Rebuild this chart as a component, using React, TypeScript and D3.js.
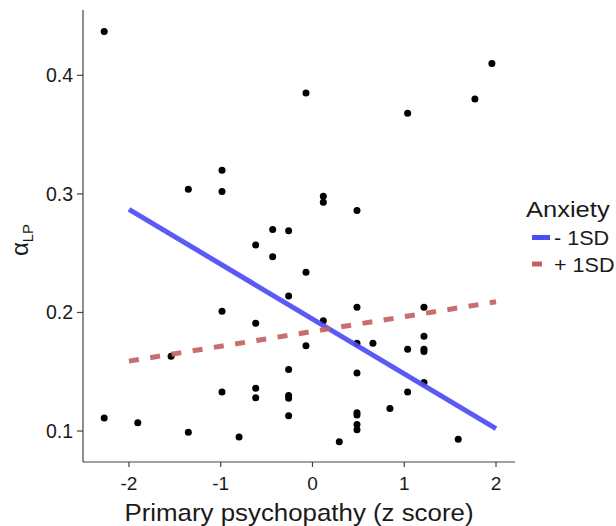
import React from 'react';
import * as d3 from 'd3';

// scores on the x axis (z score) and alpha_LP on the y axis
const psychopathy = [
  -2.27, -1.353, -0.986, -0.986, -0.434, -0.26, -0.071, 1.037, 1.77, 1.955,
  0.118, 0.118, 0.485, -0.619, -0.434, -0.26, -0.986, -0.619, -1.541, -0.26,
  -0.986, -0.619, -0.619, -0.26, -0.26, -0.26, -2.27, -1.904, -1.353, -0.8,
  -0.071, 0.485, 1.215, 0.118, -0.071, 0.485, 0.659, 1.037, 1.215, 1.215,
  1.215, 0.485, 1.215, 1.037, 0.485, 0.485, 0.485, 0.485, 0.844, 0.292, 1.588,
];
const alphaLP = [
  0.437, 0.304, 0.32, 0.302, 0.27, 0.269, 0.385, 0.368, 0.38, 0.41,
  0.298, 0.293, 0.286, 0.257, 0.247, 0.214, 0.201, 0.191, 0.163, 0.152,
  0.133, 0.136, 0.128, 0.13, 0.1276, 0.113, 0.111, 0.107, 0.099, 0.095,
  0.234, 0.2045, 0.2045, 0.193, 0.172, 0.174, 0.174, 0.169, 0.18, 0.169,
  0.167, 0.149, 0.141, 0.133, 0.1155, 0.1135, 0.1056, 0.101, 0.119, 0.091, 0.093,
];

// simple slopes at -1SD / +1SD anxiety
const lineX = [-2, 2];
const lowAnxiety = [0.287, 0.102];
const highAnxiety = [0.159, 0.209];

const xTicks = [-2, -1, 0, 1, 2];
const yTicks = [0.1, 0.2, 0.3, 0.4];

const legendLabels = ['- 1SD', '+ 1SD'];
const legendColors = ['#4c4cf5', '#c46262'];

const width = 616;
const height = 526;
const panel = { left: 83, right: 515, top: 10, bottom: 462 };

const App = () => {
  const x = d3.scaleLinear().domain([-2.501, 2.207]).range([panel.left, panel.right]);
  const y = d3.scaleLinear().domain([0.0739, 0.4551]).range([panel.bottom, panel.top]);

  const line = d3.line<number>()
    .x((d, i) => x(lineX[i]))
    .y(d => y(d));

  const font = '"Liberation Sans", Arial, sans-serif';
  const textColor = '#1a1a1a';
  const axisColor = '#444';

  return (
    <svg width={width} height={height} style={{ position: 'absolute', left: 0, top: 0, background: '#fff' }}
      fontFamily={font}>
      {/* points */}
      {psychopathy.map((px, i) => (
        <circle key={i} cx={x(px)} cy={y(alphaLP[i])} r={3.5} fill="#000" />
      ))}

      {/* fitted lines */}
      <path d={line(lowAnxiety) || ''} fill="none" stroke={legendColors[0]} strokeWidth={5} opacity={0.92} />
      <path d={line(highAnxiety) || ''} fill="none" stroke={legendColors[1]} strokeWidth={5}
        strokeDasharray="10,11.5" opacity={0.92} />

      {/* axes */}
      <line x1={panel.left} x2={panel.left} y1={panel.top} y2={panel.bottom} stroke={axisColor} strokeWidth={1.2} />
      <line x1={panel.left} x2={panel.right} y1={panel.bottom} y2={panel.bottom} stroke={axisColor} strokeWidth={1.2} />

      {yTicks.map(t => (
        <g key={t}>
          <line x1={panel.left - 6} x2={panel.left} y1={y(t)} y2={y(t)} stroke={axisColor} strokeWidth={1.2} />
          <text x={panel.left - 10} y={y(t)} dy="0.36em" textAnchor="end" fontSize={19.5} fill={textColor}>
            {d3.format('.1f')(t)}
          </text>
        </g>
      ))}

      {xTicks.map(t => (
        <g key={t}>
          <line x1={x(t)} x2={x(t)} y1={panel.bottom} y2={panel.bottom + 5} stroke={axisColor} strokeWidth={1.2} />
          <text x={x(t)} y={490} textAnchor="middle" fontSize={19} fill={textColor}>
            {t}
          </text>
        </g>
      ))}

      {/* axis titles */}
      <text transform="translate(124.5,521) scale(1.077,1)" fontSize={24} fill={textColor}>
        Primary psychopathy (z score)
      </text>
      <text transform="translate(28,240) rotate(-90)" textAnchor="middle" fontSize={24} fill={textColor}>
        α<tspan fontSize={15} dy={5}>LP</tspan>
      </text>

      {/* legend */}
      <text transform="translate(526,216.5) scale(1.16,1)" fontSize={22} fill={textColor}>Anxiety</text>
      {legendLabels.map((lab, i) => (
        <g key={lab} transform={`translate(0,${237.5 + i * 26.5})`}>
          <line x1={532} x2={550} y1={0} y2={0} stroke={legendColors[i]} strokeWidth={5}
            strokeDasharray={i === 1 ? '10,11.5' : undefined} />
          <text transform={`translate(${i === 0 ? 554 : 554},7.5) scale(1.08,1)`} fontSize={20}
            fill={textColor} xmlSpace="preserve">{lab}</text>
        </g>
      ))}
    </svg>
  );
};

export default App;
